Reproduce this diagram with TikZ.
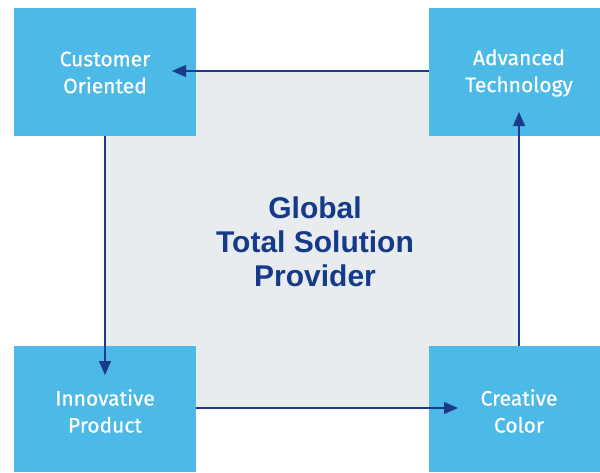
\documentclass[tikz,border=0pt]{standalone}
\usepackage{fontspec}
\setmainfont{Liberation Sans}
\newfontfamily\labelfont[FakeBold=0.6]{Fira Sans}
\usetikzlibrary{arrows.meta}
\definecolor{boxblue}{HTML}{4CB9E6}
\definecolor{coregray}{HTML}{E8ECEE}
\definecolor{linkblue}{HTML}{1B3A8C}
\definecolor{titleblue}{HTML}{153A8A}
\begin{document}
\begin{tikzpicture}[x=1pt,y=-1pt,
  pillar/.style={rectangle, fill=boxblue, inner sep=0pt},
  pillartext/.style={text=white, align=center, inner sep=0pt,
    font=\labelfont\fontsize{21}{27}\selectfont},
  link/.style={draw=linkblue, line width=1.2pt,
    -{Triangle[length=14pt,width=12pt]}}]
\useasboundingbox (0,0) rectangle (600,472);
% central field
\fill[coregray] (105,71) rectangle (519,408);
\node[font=\bfseries\fontsize{30}{34}\selectfont, text=titleblue, align=center]
  (core) at (315,241.5) {Global\\Total Solution\\Provider};
% four corner boxes
\node[pillar, minimum width=182pt, minimum height=128pt] (cust) at (105,72) {};
\node[pillar, minimum width=171pt, minimum height=128pt] (tech) at (514.5,72) {};
\node[pillar, minimum width=182pt, minimum height=126pt] (innov) at (105,409) {};
\node[pillar, minimum width=171pt, minimum height=126pt] (color) at (514.5,409) {};
% box captions
\node[pillartext] (custtext) at (105,72.5) {Customer\\Oriented};
\node[pillartext] (techtext) at (519,73) {Advanced\\Technology};
\node[pillartext] (innovtext) at (105,411) {Innovative\\Product};
\node[pillartext] (colortext) at (519,411) {Creative\\Color};
% arrow end points inside the boxes
\coordinate (tipCust) at (172,71);
\coordinate (tipInnov) at (105,375);
\coordinate (tipColor) at (458,408);
\coordinate (tipTech) at (519,112);
% cycle of connectors
\draw[link] (tech.west |- tipCust) -- (tipCust);
\draw[link] (cust.south -| tipInnov) -- (tipInnov);
\draw[link] (innov.east |- tipColor) -- (tipColor);
\draw[link] (color.north -| tipTech) -- (tipTech);
\end{tikzpicture}
\end{document}
